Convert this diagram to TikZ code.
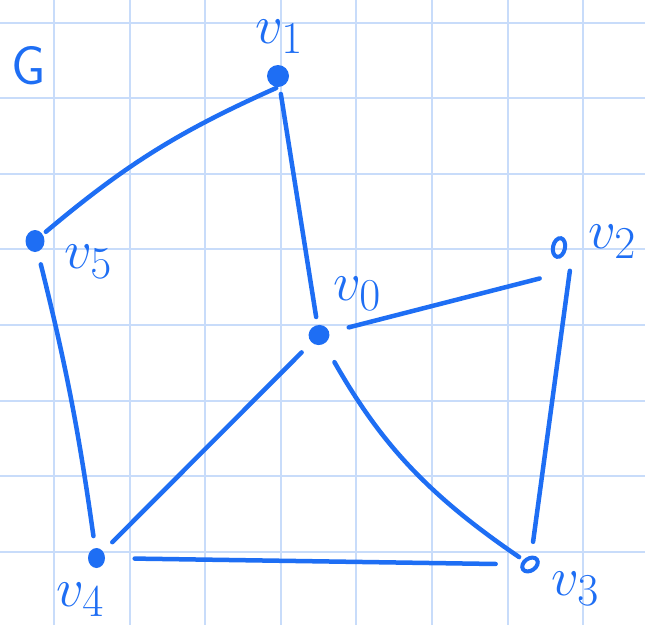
\documentclass[tikz,border=0pt]{standalone}
\usepackage{tikz}
\usetikzlibrary{shapes.geometric}
\definecolor{Ink}{HTML}{1E6EF4}
\definecolor{GridBlue}{HTML}{C8DCFA}
\tikzset{
  dot/.style={ellipse, fill=Ink, inner sep=0pt},
  ring/.style={ellipse, draw=Ink, line width=4pt, inner sep=0pt},
  edge/.style={draw=Ink, line width=4.5pt, line cap=round},
  lbl/.style={text=Ink, inner sep=0pt, anchor=base west, font=\Huge, scale=2.2},
  gridline/.style={draw=GridBlue, line width=2pt}
}
\begin{document}
\begin{tikzpicture}[x=1pt,y=-1pt]
\useasboundingbox (0,0) rectangle (645,625);
\fill[white] (0,0) rectangle (645,625);
\foreach \k in {0,...,7}{
  \draw[gridline] ({54+75.6*\k},0) -- ({54+75.6*\k},625);
  \draw[gridline] (0,{22.5+75.6*\k}) -- (645,{22.5+75.6*\k});
}
\node[dot,minimum width=22pt,minimum height=22pt] (v1) at (278,76) {};
\node[dot,minimum width=21pt,minimum height=20pt,rotate=20] (v0) at (319,335) {};
\node[dot,minimum width=19pt,minimum height=22pt] (v5) at (35,241) {};
\node[dot,minimum width=17pt,minimum height=20pt] (v4) at (96.5,558) {};
\node[ring,minimum width=12pt,minimum height=19pt,rotate=-12] (v2) at (559,247.5) {};
\node[ring,minimum width=17pt,minimum height=12pt,rotate=35] (v3) at (530,564.5) {};
\draw[edge, shorten <=2pt, shorten >=4pt] (v1.south) to[bend right=8] (v5);
\draw[edge, shorten <=7pt, shorten >=8pt] (v1) -- (v0);
\draw[edge, shorten <=20pt, shorten >=20pt] (v0) -- ([yshift=-26pt]v2.center);
\draw[edge, shorten <=23.5pt, shorten >=14pt] ([xshift=14pt]v2.center) -- (v3);
\draw[edge, shorten <=13pt, shorten >=12pt] (v5) to[bend left=3] (v4);
\draw[edge, shorten <=14pt, shorten >=13pt] (v0) -- (v4);
\draw[edge, shorten <=21pt, shorten >=5pt] (v0) to[bend right=13] (v3);
\draw[edge, shorten <=29.5pt, shorten >=25pt] (v4) -- (v3);
\node[lbl,font=\Huge\sffamily,anchor=center] (g) at (29,66) {G};
\node[lbl] (l1) at (255,43) {$v_1$};
\node[lbl] (l5) at (64,268) {$v_5$};
\node[lbl] (l0) at (333,300) {$v_0$};
\node[lbl] (l2) at (588,248) {$v_2$};
\node[lbl] (l4) at (56,606) {$v_4$};
\node[lbl] (l3) at (551,595) {$v_3$};
\end{tikzpicture}
\end{document}
